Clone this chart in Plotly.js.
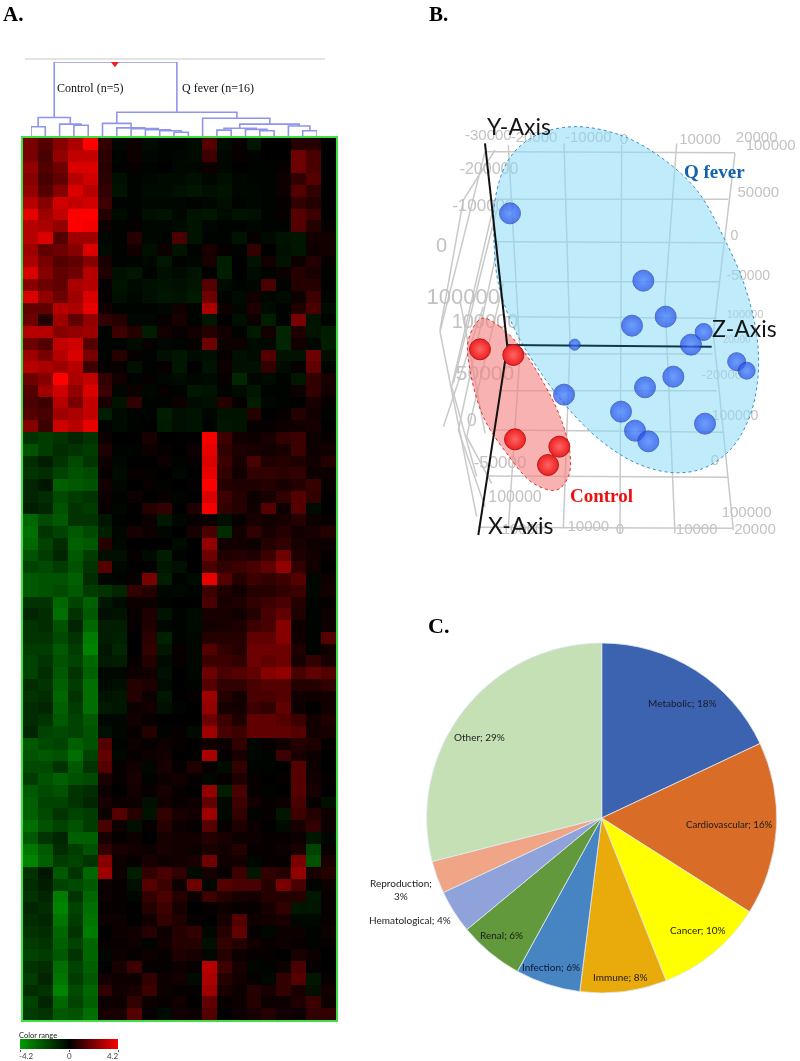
<!DOCTYPE html>
<html><head><meta charset="utf-8">
<script src="https://cdn.plot.ly/plotly-3.0.1.min.js"></script>
<style>html,body{margin:0;padding:0;background:#fff}#c{width:800px;height:1061px;filter:blur(0.5px)}</style>
</head><body><div id="c"></div>
<script>
// ---------- A. heat map: expression in tenths of a log ratio; first 5 columns are Control, next 16 Q fever
const upRows = [
[20,14,22,28,42,8,-2,2,-3,-1,-1,-3,14,-3,1,-6,0,0,6,6,0],
[20,12,24,32,32,7,-1,2,-2,-1,-2,-3,10,-2,1,-1,0,0,18,12,0],
[24,14,18,36,36,6,-1,1,-1,0,-2,-2,2,-2,0,-1,-1,1,18,12,0],
[22,12,16,30,34,7,-4,-1,-2,-3,-3,-4,-2,-4,-2,-1,-1,2,8,14,0],
[24,14,22,36,30,8,-5,-1,-3,-3,-4,-6,-4,-5,-2,-2,-1,2,14,8,0],
[30,22,34,32,34,10,-1,-1,-2,-2,-2,-1,-2,-4,-1,-2,-1,1,8,6,0],
[38,26,32,42,42,6,-3,-1,-4,-5,-2,-5,-6,-3,-5,-4,-1,1,14,10,0],
[30,28,24,42,40,2,-1,1,-2,-2,-3,-5,-2,-1,-1,-2,-1,-1,14,6,1],
[30,36,14,26,26,-2,-1,6,-2,-1,12,-5,-1,-1,-5,1,-3,-5,-6,3,3],
[26,16,18,22,36,-3,-1,3,-4,2,-5,-1,4,1,-1,8,0,-4,-6,2,3],
[28,20,14,16,22,4,-1,-1,-2,-6,-1,-2,4,-8,0,-5,3,-5,2,6,1],
[36,22,16,18,30,5,-4,-6,-1,-4,-3,-5,0,-8,0,-3,-1,2,6,4,-1],
[22,18,16,28,30,1,-5,-3,-4,-5,-4,-6,14,-3,-1,-2,12,-1,6,6,0],
[36,24,18,26,36,1,-4,-2,-4,-6,-5,-7,18,-1,-3,3,-2,-3,2,10,-1],
[16,16,30,28,38,3,-1,-1,-1,-2,3,-1,28,2,-2,5,-3,-1,5,12,-3],
[18,6,26,16,24,8,6,-2,-2,1,4,-1,-6,0,-4,2,-8,-1,20,-5,-1],
[30,30,22,24,26,-1,10,6,-8,3,1,3,6,3,-1,-7,3,-10,5,-5,-8],
[18,14,32,34,14,-1,-1,-3,1,-2,-1,1,18,2,2,-3,-2,-10,3,-2,-8],
[26,20,30,36,20,-1,6,1,-1,-4,-6,-3,-4,1,-4,-3,14,-5,-5,18,-4],
[30,28,26,30,10,1,1,-4,-1,1,-6,0,-5,2,-4,-4,8,-3,1,16,-1],
[18,22,42,28,32,8,3,-1,1,-2,-3,-2,-3,1,-10,-2,-3,-1,-6,8,4],
[14,26,34,24,36,10,-2,2,-2,1,-1,-6,-5,-1,-3,-6,-1,-1,2,8,3],
[12,10,30,20,32,4,-5,8,-1,-1,2,-3,-4,6,1,-8,-2,-1,0,4,1],
[14,12,26,28,32,-8,-3,-1,-1,-8,-4,-5,-2,-5,-5,6,0,1,6,3,-1],
[22,10,34,30,38,-1,-3,-1,0,-7,-4,-5,-1,-6,-5,1,1,2,3,4,0]
];
const downRows = [
[-14,-16,-14,-10,-14,2,0,0,4,0,0,0,40,10,3,2,4,8,10,2,1],
[-22,-16,-12,-14,-16,5,-1,-1,2,1,0,2,38,8,5,4,3,4,10,2,3],
[-12,-8,-14,-20,-14,2,-2,0,0,2,-1,1,36,10,4,12,5,6,5,3,6],
[-14,-12,-18,-22,-20,1,-3,1,1,0,-2,0,38,8,3,8,8,7,8,2,2],
[-10,-6,-26,-24,-22,3,-2,0,1,-1,0,1,42,6,5,5,6,4,6,9,1],
[-10,-12,-20,-16,-14,2,-1,2,0,1,-1,0,36,10,6,2,4,8,14,8,0],
[-8,-10,-22,-14,-16,1,-2,0,6,8,0,5,40,8,6,3,14,2,14,-3,0],
[-28,-20,-24,-14,-14,-6,-1,0,2,-6,-2,1,2,-4,1,4,3,4,6,2,1],
[-30,-14,-18,-24,-20,-8,-2,4,2,-2,0,4,12,-12,3,8,4,6,3,4,6],
[-28,-18,-12,-26,-24,6,-2,0,0,0,-3,0,24,3,3,2,6,8,4,2,2],
[-22,-16,-10,-24,-16,-4,-4,1,-3,-8,-1,0,18,5,6,5,10,18,5,3,1],
[-18,-20,-16,-22,-14,14,-2,0,0,-6,-4,0,12,8,10,12,16,24,8,3,0],
[-24,-22,-22,-26,-12,-2,-1,1,20,-8,-1,-3,38,14,6,10,8,10,14,-2,2],
[-24,-22,-20,-24,-16,-14,-10,8,6,-2,-2,-1,10,5,3,6,6,8,10,-2,3],
[-14,-14,-28,-18,-26,-6,-3,2,2,-1,0,0,12,4,5,8,10,12,6,-1,1],
[-10,-12,-30,-14,-24,-4,-5,1,5,-5,-1,-3,4,4,3,6,12,16,5,-1,2],
[-14,-12,-22,-10,-28,-8,-8,1,5,-2,-1,-3,3,4,5,10,12,22,2,-1,2],
[-14,-14,-20,-14,-34,-8,-9,0,7,-9,-1,-2,6,6,6,16,16,22,3,-1,14],
[-16,-16,-24,-16,-36,-6,-10,0,8,-6,1,-2,14,8,6,18,18,18,5,-1,3],
[-18,-14,-22,-18,-28,-7,-8,1,6,-3,1,-2,10,10,8,18,16,18,4,8,4],
[-18,-12,-24,-14,-26,-2,-2,2,3,-4,0,-2,18,12,14,16,22,24,12,16,14],
[-12,-14,-26,-16,-30,-3,-4,6,5,-3,0,-1,14,8,8,12,14,14,6,6,8],
[-14,-12,-28,-14,-30,-5,-6,6,2,-6,0,1,26,6,3,12,12,14,3,2,3],
[-12,-10,-26,-16,-30,-7,-6,2,3,-4,-1,0,24,4,3,10,8,16,2,0,3],
[-12,-14,-24,-18,-24,-2,-2,3,1,0,0,0,18,10,5,16,16,14,10,3,5],
[-10,-18,-20,-18,-22,-4,-2,1,6,-1,1,-3,26,12,10,16,16,16,14,3,4],
[-24,-20,-18,-26,-22,14,-1,2,1,2,1,0,3,2,8,-2,1,3,6,5,1],
[-22,-24,-22,-30,-18,16,-2,1,2,3,0,0,28,1,4,-2,-1,10,4,2,0],
[-20,-20,-14,-24,-14,14,1,3,-2,4,1,5,1,-3,8,-1,-1,0,14,2,0],
[-16,-22,-26,-22,-20,4,1,4,-1,2,3,1,-2,1,5,1,0,1,14,3,1],
[-24,-20,-22,-14,-12,2,0,3,1,4,1,0,24,-8,12,1,-1,0,14,4,0],
[-26,-18,-18,-14,-10,4,2,2,-4,3,1,2,16,-2,10,3,1,2,12,1,-4],
[-26,-20,-14,-18,-16,2,14,6,-5,8,4,3,26,-2,8,-1,1,-6,10,6,2],
[-30,-22,-18,-22,-16,12,2,-4,1,6,2,1,14,1,5,2,0,-3,4,8,2],
[-24,-14,-10,-26,-26,4,1,2,0,4,3,3,6,4,2,2,1,1,2,-6,-2],
[-32,-24,-12,-16,-22,8,4,3,2,4,3,2,4,3,6,1,1,2,4,-18,1],
[-36,-26,-16,-18,-14,22,2,1,4,2,3,4,18,3,3,-2,1,1,20,-22,4],
[-14,-6,-24,-14,-28,26,2,-8,8,12,8,-3,4,1,10,-6,8,6,24,4,6],
[-12,-8,-18,-20,-24,2,1,-4,14,10,2,18,-2,14,12,12,6,20,12,-1,2],
[-14,-10,-34,-14,-28,2,1,-2,8,12,6,2,10,6,4,3,6,6,6,-6,1],
[-10,-12,-36,-18,-30,1,1,0,6,10,4,0,1,2,1,1,4,8,-6,-6,1],
[-12,-10,-32,-16,-32,2,2,0,3,8,5,1,0,4,14,2,3,4,-2,-2,1],
[-14,-12,-28,-14,-34,0,2,3,6,2,6,8,-2,6,16,1,-2,2,2,-1,2],
[-16,-14,-26,-18,-28,1,1,2,-1,3,6,6,-4,8,6,3,1,2,1,-1,1],
[-18,-16,-24,-14,-28,-2,2,1,2,1,5,4,-2,6,2,1,1,0,4,2,0],
[-14,-12,-30,-18,-26,0,4,10,1,1,2,1,30,10,4,-2,-1,2,12,1,0],
[-16,-10,-32,-16,-24,3,2,2,8,2,3,-3,28,6,3,1,-2,8,14,-6,1],
[-12,-14,-36,-20,-28,8,3,4,10,2,1,1,26,4,2,6,4,8,4,-4,3],
[-18,-10,-28,-18,-26,2,2,8,2,1,3,0,16,1,2,6,2,2,5,10,2],
[-16,-14,-24,-22,-30,4,4,14,1,-3,3,2,14,0,2,4,6,3,2,8,8]
];
const colorRangeValues = [-4.2,-3.6,-3,-2.4,-1.8,-1.2,-0.6,0,0.6,1.2,1.8,2.4,3,3.6,4.2];
const colorRangeTicks = [-4.2,0,4.2];

// dendrogram merges: leaf position of each child, join height, height each child starts at
const mergeLeft  = [1.625,0.5,0,2,3,6,5,6,7,8,9,10,12,14.6,13.5,13,15,16,18,19];
const mergeRight = [10.2,2.75,1,3.5,4,14.4,7,7.95,8.9,9.75,10.5,11,16.7,18.75,15.75,14,16.5,17,19.5,20];
const mergeHeight= [1,0.25,0.126,0.16,0.145,0.32,0.17,0.11,0.1,0.085,0.07,0.05,0.24,0.16,0.105,0.08,0.09,0.07,0.135,0.07];
const mergeLowL  = [0.25,0.126,0,0,0,0.17,0,0,0,0,0,0,0,0.105,0.08,0,0,0,0,0];
const mergeLowR  = [0.32,0.16,0,0.145,0,0.24,0.11,0.1,0.085,0.07,0.05,0,0.16,0.135,0.09,0,0.07,0,0.07,0];

// ---------- B. projected PCA scores
const qFeverX = [270,670,737,636,851,813,464,950,980,760,675,432,603,855,645,685];
const qFeverY = [340,542,650,677,696,734,734,785,812,830,862,884,935,971,992,1024];
const qFeverSize = [21,21,21,21,17,21,11,18,17,21,21,21,21,21,21,21];
const controlX = [180,280,285,418,384];
const controlY = [748,765,1018,1040,1095];
const qFeverOutlineX = [460,600,720,830,910,975,1012,1012,985,930,850,760,650,540,440,350,280,235,222,225,265,340,460];
const qFeverOutlineY = [80,105,170,270,410,560,720,850,960,1050,1105,1118,1090,1020,920,800,680,550,420,300,180,110,80];
const controlOutlineX = [185,240,300,360,420,450,445,410,340,260,190,150,145,185];
const controlOutlineY = [655,680,740,830,950,1060,1130,1170,1150,1060,950,810,720,655];
const gridX = [195,945,null,225,925,null,220,910,null,240,900,null,255,890,null,300,878,null,235,890,null,225,910,null,205,925,null,175,940,null,
  265,300,265,null,432,450,430,null,605,600,null,770,735,765,null,945,880,940,null,
  195,60,170,null,225,95,170,null,235,115,195,null,250,140,215,null,120,195,null,60,130,225,null,100,230,null,70,190];
const gridY = [155,158,null,298,298,null,425,428,null,545,545,null,650,655,null,762,762,null,872,872,null,990,997,null,1128,1132,null,1282,1285,null,
  135,760,1285,null,130,730,1285,null,135,1300,null,130,600,1300,null,160,700,1290,null,
  155,695,1250,null,300,860,1130,null,430,990,1220,null,550,1010,1150,null,600,1000,null,690,300,150,null,850,330,null,980,620];
const yAxisX = [195,262], yAxisY = [130,740];
const xAxisX = [262,175], xAxisY = [740,1305];
const zAxisX = [262,875], zAxisY = [735,740];
const tickText = ['-30000','-20000','-10000','0','10000','20000','100000','50000','0','-50000','100000','20000','-20000','100000','0','100000','20000','10000','0','10000','-10000','-200000','-100000','0','100000','100000','50000','0','-50000','100000'];
const tickX = [205,342,505,612,840,1010,1052,1015,943,985,975,950,905,945,885,980,1005,830,600,505,300,207,190,65,130,195,195,155,240,285];
const tickY = [110,115,116,120,120,115,140,280,408,528,645,722,828,950,1085,1240,1292,1290,1290,1283,1290,210,320,440,595,670,825,965,1090,1195];
const tickSize = [15,15,15,15,15,15,15,15,14,14,11,10,13,14,15,15,15,15,15,15,15,16,17,20,22,20,21,18,17,16];

// ---------- C. disease categories
const pieLabels = ['Metabolic','Cardiovascular','Cancer','Immune','Infection','Renal','Hematological','Reproduction','Other'];
const pieValues = [18,16,10,8,6,6,4,3,29];
const pieColors = ['#3c63b0','#d96d28','#ffff00','#e9aa0c','#4784c2','#62993c','#8fa3da','#f0a586','#c6e0b5'];

// ---------- helpers
const W = 800, H = 1061;
const xd = (a,b)=>[a/W,b/W];
const yd = (a,b)=>[1-b/H,1-a/H];
const hiddenAxis = o=>Object.assign({visible:false,fixedrange:true},o);
const note = (text,x,y,size,color,family,extra)=>Object.assign({
  text,x:x/W,y:1-y/H,xref:'paper',yref:'paper',showarrow:false,xanchor:'center',yanchor:'middle',
  font:{size,color,family}},extra||{});

const zTenths = upRows.concat(downRows).map(r=>r.map(v=>v/10));
const scale = [[0,'#009a00'],[0.5,'#000000'],[1,'#ff0000']];

let dX=[],dY=[];
mergeLeft.forEach((l,i)=>{
  const r=mergeRight[i],h=mergeHeight[i];
  dX.push(l,l,r,r,null); dY.push(mergeLowL[i],h,h,mergeLowR[i],null);
});

const traces = [
 {type:'heatmap',z:zTenths,xaxis:'x',yaxis:'y',zmin:-4.2,zmax:4.2,colorscale:scale,showscale:false,hoverinfo:'skip',xgap:0,ygap:0},
 {type:'scatter',mode:'lines',x:dX,y:dY,xaxis:'x2',yaxis:'y2',line:{color:'#8f95ea',width:1.6},hoverinfo:'skip'},
 {type:'scatter',mode:'markers',x:[5.87],y:[0.975],xaxis:'x2',yaxis:'y2',marker:{symbol:'triangle-down',size:7,color:'#f02020'},hoverinfo:'skip'},
 {type:'heatmap',x:colorRangeValues,y:[0,1],z:[colorRangeValues,colorRangeValues],xaxis:'x3',yaxis:'y3',zmin:-4.2,zmax:4.2,colorscale:scale,showscale:false,zsmooth:'best',hoverinfo:'skip'},
 {type:'scatter',mode:'lines',x:gridX,y:gridY,xaxis:'x4',yaxis:'y4',line:{color:'#c9c9c9',width:1.5},hoverinfo:'skip'},
 {type:'scatter',mode:'text',x:tickX,y:tickY,text:tickText,xaxis:'x4',yaxis:'y4',textposition:'middle center',textfont:{size:tickSize,color:'#c2c2c2',family:'Liberation Sans'},hoverinfo:'skip'},
 {type:'scatter',mode:'lines',x:qFeverOutlineX,y:qFeverOutlineY,xaxis:'x4',yaxis:'y4',fill:'toself',fillcolor:'rgba(140,218,246,0.55)',line:{color:'#3a8fc4',width:1,dash:'dot',shape:'spline'},hoverinfo:'skip'},
 {type:'scatter',mode:'lines',x:controlOutlineX,y:controlOutlineY,xaxis:'x4',yaxis:'y4',fill:'toself',fillcolor:'rgba(246,130,130,0.62)',line:{color:'#e03030',width:1,dash:'dot',shape:'spline'},hoverinfo:'skip'},
 {type:'scatter',mode:'lines',x:yAxisX,y:yAxisY,xaxis:'x4',yaxis:'y4',line:{color:'#111111',width:2},hoverinfo:'skip'},
 {type:'scatter',mode:'lines',x:xAxisX,y:xAxisY,xaxis:'x4',yaxis:'y4',line:{color:'#111111',width:2},hoverinfo:'skip'},
 {type:'scatter',mode:'lines',x:zAxisX,y:zAxisY,xaxis:'x4',yaxis:'y4',line:{color:'#0e3a48',width:2},hoverinfo:'skip'},
 {type:'scatter',mode:'markers',x:qFeverX,y:qFeverY,xaxis:'x4',yaxis:'y4',marker:{size:qFeverSize,color:'#1f4ce8',gradient:{type:'radial',color:'#4a7cff'},line:{color:'#1c38b0',width:1}},hoverinfo:'skip'},
 {type:'scatter',mode:'markers',x:controlX,y:controlY,xaxis:'x4',yaxis:'y4',marker:{size:21,color:'#ee2020',gradient:{type:'radial',color:'#ff6565'},line:{color:'#b81818',width:1}},hoverinfo:'skip'},
 {type:'pie',labels:pieLabels,values:pieValues,sort:false,direction:'clockwise',rotation:0,textinfo:'none',hoverinfo:'skip',
  marker:{colors:pieColors,line:{color:'#dfe9f3',width:0.8}},
  domain:{x:xd(601.7-175,601.7+175),y:yd(818-175,818+175)}}
];

const sans='Lato, Liberation Sans, sans-serif', serif='Liberation Serif, serif';
const pieText = i=>pieLabels[i]+'; '+pieValues[i]+'%';
const annotations = [
 note('<b>A.</b>',13,14,21,'#000',serif),
 note('<b>B.</b>',439,14,21,'#000',serif),
 note('<b>C.</b>',439,625,22,'#000',serif),
 note('Control (n=5)',90,88,12,'#111',serif),
 note('Q fever (n=16)',218,88,12,'#111',serif),
 note('Color range',38,1035,7.5,'#222',sans),
 note(String(colorRangeTicks[0]),26,1056,8,'#444',sans),
 note(String(colorRangeTicks[1]),69,1056,8,'#444',sans),
 note(String(colorRangeTicks[2]),113,1056,8,'#444',sans),
 note('Y-Axis',519,126,23,'#151515',sans),
 note('X-Axis',520,525,23,'#151515',sans),
 note('Z-Axis',744,328,23,'#151515',sans),
 note('<b>Q fever</b>',714,171,19,'#0f62ab',serif),
 note('<b>Control</b>',601,495,19,'#ee1010',serif),
 note(pieText(0),682,703,10,'#1a1a2a',sans),
 note(pieText(1),729,824,9.7,'#1a1a1a',sans),
 note(pieText(2),698,930,10,'#1a1a1a',sans),
 note(pieText(3),620,977,10,'#1a1a1a',sans),
 note(pieText(4),551,967,10,'#101830',sans),
 note(pieText(5),502,935,10,'#1a1a1a',sans),
 note(pieText(6),410,920,10,'#222',sans),
 note('Reproduction;<br>3%',401,889,10,'#222',sans),
 note(pieText(8),479,737,10,'#222',sans)
];

const layout = {
 width:W,height:H,margin:{l:0,r:0,t:0,b:0,pad:0},paper_bgcolor:'#fff',plot_bgcolor:'rgba(0,0,0,0)',showlegend:false,hovermode:false,
 xaxis:{domain:xd(23,336),range:[-0.5,20.5],showgrid:false,zeroline:false,ticks:'',showticklabels:false,showline:true,mirror:true,linecolor:'#3fe03f',linewidth:2,fixedrange:true,anchor:'y'},
 yaxis:{domain:yd(138,1020),range:[74.5,-0.5],showgrid:false,zeroline:false,ticks:'',showticklabels:false,showline:true,mirror:true,linecolor:'#3fe03f',linewidth:2,fixedrange:true,anchor:'x'},
 xaxis2:hiddenAxis({domain:xd(31,317),range:[0,20],anchor:'y2'}),
 yaxis2:hiddenAxis({domain:yd(62,136),range:[0,1],anchor:'x2'}),
 xaxis3:{domain:xd(20,118),range:[-4.2,4.2],tickvals:colorRangeTicks,showticklabels:false,ticks:'outside',ticklen:2,tickcolor:'#555',showgrid:false,zeroline:false,fixedrange:true,anchor:'y3'},
 yaxis3:hiddenAxis({domain:yd(1039,1049),range:[0,1],anchor:'x3'}),
 xaxis4:hiddenAxis({domain:xd(420,800),range:[0,1140],anchor:'y4'}),
 yaxis4:hiddenAxis({domain:yd(100,550),range:[1350,0],anchor:'x4'}),
 shapes:[{type:'line',xref:'paper',yref:'paper',x0:25/W,x1:325/W,y0:1-59/H,y1:1-59/H,line:{color:'#c8c8c8',width:1}}],
 annotations
};
Plotly.newPlot('c',traces,layout,{displayModeBar:false,staticPlot:true});
</script></body></html>
